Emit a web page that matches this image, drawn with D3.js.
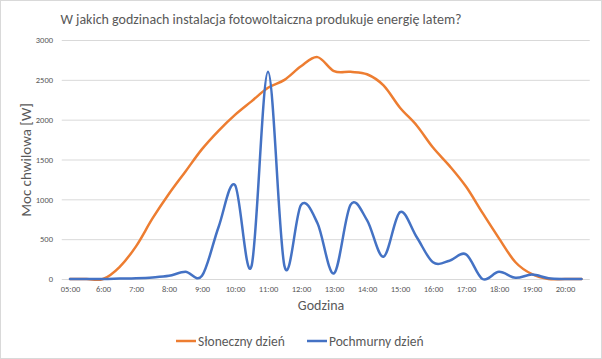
<!DOCTYPE html>
<html>
<head>
<meta charset="utf-8">
<script src="https://cdn.jsdelivr.net/npm/d3@7"></script>
<style>
  body { margin: 0; background: #fff; }
  svg text { font-family: Carlito, Calibri, Lato, sans-serif; fill: #595959; }
</style>
</head>
<body>
<div id="chart"></div>
<script>
var categories = ["05:00","05:30","06:00","06:30","07:00","07:30","08:00","08:30","09:00","09:30",
  "10:00","10:30","11:00","11:30","12:00","12:30","13:00","13:30","14:00","14:30",
  "15:00","15:30","16:00","16:30","17:00","17:30","18:00","18:30","19:00","19:30","20:00","20:30"];

var sunny = [0, 0, 0, 150, 410, 760, 1070, 1350, 1630, 1860,
  2060, 2230, 2400, 2500, 2670, 2785, 2610, 2600, 2570, 2430,
  2150, 1930, 1650, 1420, 1160, 830, 510, 210, 60, 0, 0, 0];

var cloudy = [0, 0, 0, 5, 10, 20, 40, 90, 40, 650,
  1180, 160, 2600, 160, 930, 700, 70, 930, 740, 280,
  840, 530, 210, 230, 310, 0, 90, 15, 55, 10, 0, 0];

var xTicks = [5, 6, 7, 8, 9, 10, 11, 12, 13, 14, 15, 16, 17, 18, 19, 20];
var xTickLabels = ["05:00","6:00","7:00","8:00","9:00","10:00","11:00","12:00","13:00","14:00",
  "15:00","16:00","17:00","18:00","19:00","20:00"];
var yTicks = [0, 500, 1000, 1500, 2000, 2500, 3000];

var seriesNames = ["Słoneczny dzień", "Pochmurny dzień"];
var colors = ["#ED7D31", "#4472C4"];

var width = 602, height = 359;

var svg = d3.select("#chart").append("svg").attr("width", width).attr("height", height);

svg.append("rect").attr("x", 0.5).attr("y", 0.5).attr("width", width - 1).attr("height", height - 1)
  .attr("fill", "#fff").attr("stroke", "#d9d9d9");

function toHour(s) {
  var p = s.split(":");
  return +p[0] + (+p[1]) / 60;
}

var xscale = d3.scaleLinear().domain([5, 20]).range([70, 565]);
var yscale = d3.scaleLinear().domain([0, 3000]).range([279, 40]);

// grid
svg.append("g").selectAll("line").data(yTicks).enter().append("line")
  .attr("x1", xscale(4.75)).attr("x2", xscale(20.75))
  .attr("y1", function(d) { return yscale(d) + 0.5; })
  .attr("y2", function(d) { return yscale(d) + 0.5; })
  .attr("stroke", "#d9d9d9").attr("stroke-width", 1);

// y axis labels
var yy = d3.axisLeft(yscale).tickValues(yTicks).tickSize(0).tickPadding(0).tickFormat(d3.format("d"));
var yAxis = svg.append("g").attr("transform", "translate(53,0)").call(yy);
yAxis.select(".domain").remove();
yAxis.selectAll("text").attr("font-size", 8.5).attr("fill", "#595959").attr("font-family", null);

// x axis labels
var xx = d3.axisBottom(xscale).tickValues(xTicks).tickSize(0).tickPadding(0)
  .tickFormat(function(d, i) { return xTickLabels[i]; });
var xAxis = svg.append("g").attr("transform", "translate(0,286)").call(xx);
xAxis.select(".domain").remove();
xAxis.selectAll("text").attr("font-size", 8.5).attr("fill", "#595959").attr("font-family", null);

// lines
var line = d3.line()
  .x(function(d) { return xscale(d.h); })
  .y(function(d) { return yscale(d.v); })
  .curve(d3.curveCardinal.tension(0));

[sunny, cloudy].forEach(function(vals, k) {
  var pts = vals.map(function(v, i) { return { h: toHour(categories[i]), v: v }; });
  svg.append("path").datum(pts).attr("d", line)
    .attr("fill", "none").attr("stroke", colors[k]).attr("stroke-width", 2.5)
    .attr("stroke-linejoin", "round").attr("stroke-linecap", "round");
});

// title
svg.append("text").attr("x", 261).attr("y", 24).attr("text-anchor", "middle")
  .attr("font-size", 14).text("W jakich godzinach instalacja fotowoltaiczna produkuje energię latem?");

// axis titles
svg.append("text").attr("x", 321).attr("y", 310).attr("text-anchor", "middle")
  .attr("font-size", 14).text("Godzina");
svg.append("text").attr("transform", "translate(31,160) rotate(-90)").attr("text-anchor", "middle")
  .attr("font-size", 15).text("Moc chwilowa [W]");

// legend
var legX = [176, 307];
seriesNames.forEach(function(n, k) {
  svg.append("line").attr("x1", legX[k]).attr("x2", legX[k] + 20).attr("y1", 341).attr("y2", 341)
    .attr("stroke", colors[k]).attr("stroke-width", 2.5);
  svg.append("text").attr("x", legX[k] + 22).attr("y", 346).attr("font-size", 13.5).text(n);
});
</script>
</body>
</html>
